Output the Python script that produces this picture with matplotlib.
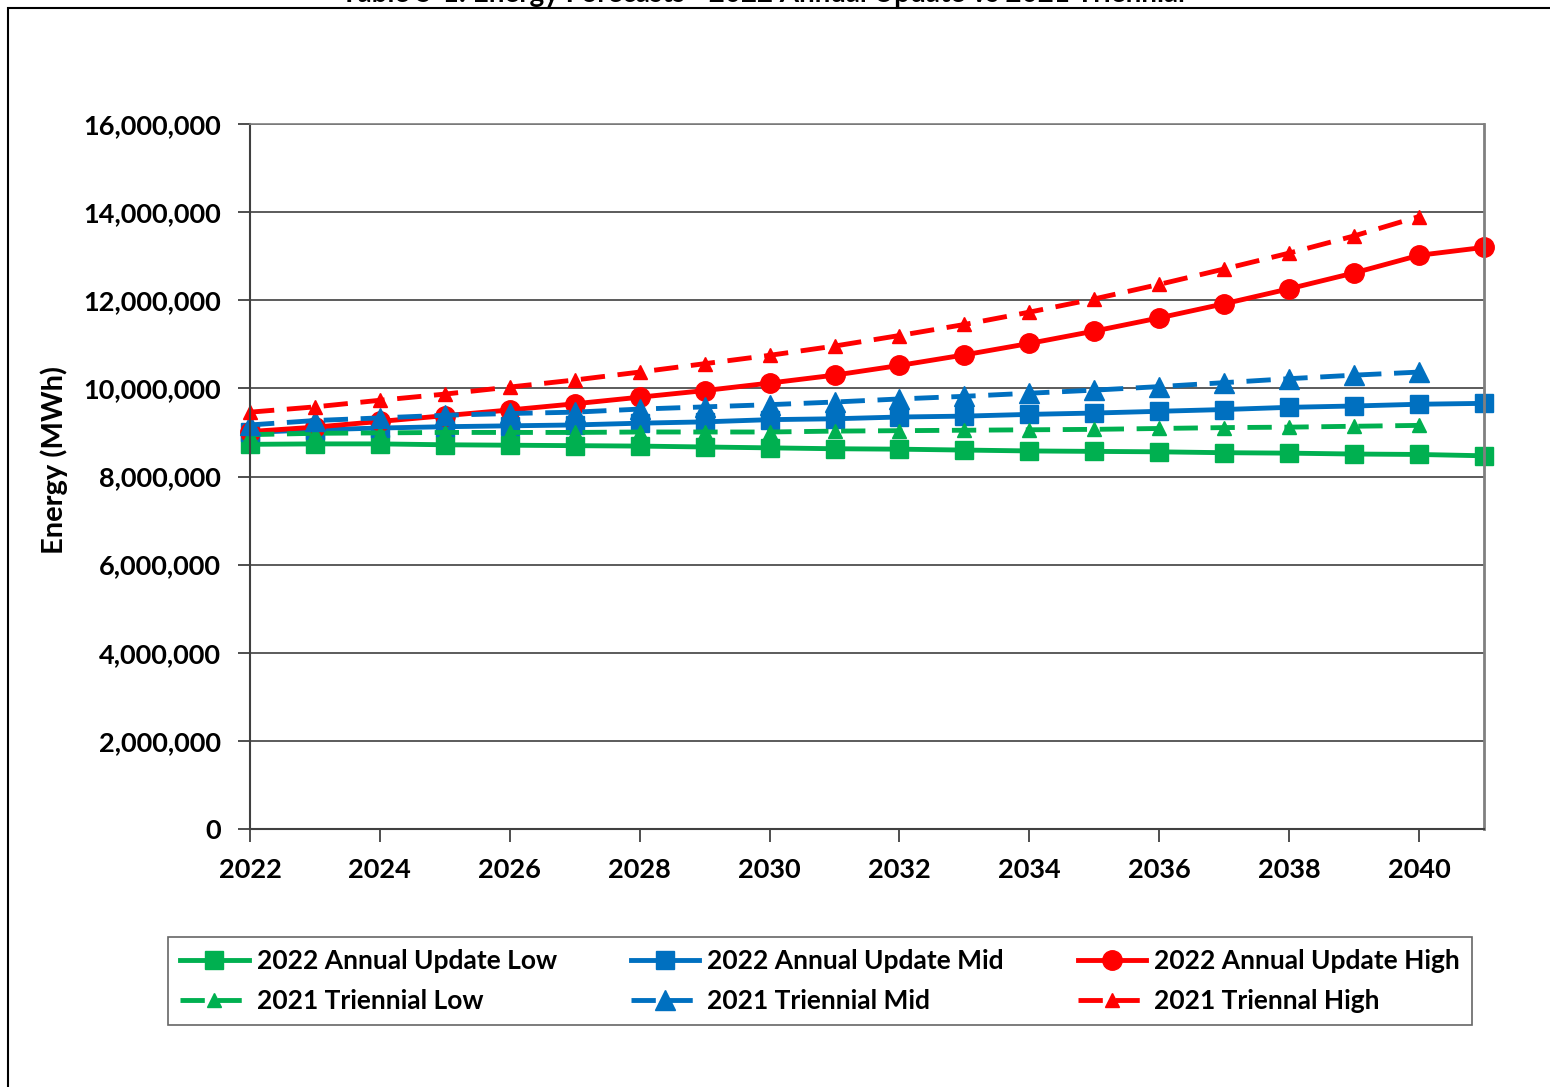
import matplotlib
matplotlib.use("Agg")
import matplotlib.pyplot as plt
from matplotlib.patches import Rectangle
from matplotlib.ticker import FuncFormatter, MultipleLocator

plt.rcParams['font.family'] = ['Lato', 'DejaVu Sans']
plt.rcParams['font.weight'] = 'bold'

# forecast years
years_au = list(range(2022, 2042))   # 2022 Annual Update runs to 2041
years_tr = list(range(2022, 2041))   # 2021 Triennial runs to 2040

# energy, millions of MWh
au_low = [8.73, 8.74, 8.74, 8.72, 8.71, 8.70, 8.69, 8.67, 8.65, 8.63,
          8.62, 8.60, 8.58, 8.57, 8.56, 8.54, 8.53, 8.51, 8.50, 8.47]
au_mid = [9.00, 9.06, 9.10, 9.13, 9.15, 9.17, 9.21, 9.24, 9.29, 9.31,
          9.35, 9.37, 9.41, 9.44, 9.48, 9.52, 9.57, 9.60, 9.64, 9.66]
au_high = [9.02, 9.12, 9.25, 9.38, 9.51, 9.65, 9.80, 9.95, 10.12, 10.30,
           10.52, 10.76, 11.02, 11.30, 11.60, 11.92, 12.26, 12.62, 13.02, 13.20]
tr_low = [8.95, 8.98, 8.99, 9.00, 9.00, 9.00, 9.01, 9.01, 9.01, 9.03,
          9.04, 9.05, 9.06, 9.07, 9.09, 9.11, 9.12, 9.14, 9.16]
tr_mid = [9.17, 9.27, 9.33, 9.39, 9.43, 9.46, 9.53, 9.58, 9.63, 9.69,
          9.76, 9.82, 9.89, 9.96, 10.04, 10.13, 10.22, 10.30, 10.37]
tr_high = [9.46, 9.58, 9.73, 9.87, 10.03, 10.19, 10.37, 10.56, 10.75, 10.96,
           11.20, 11.45, 11.73, 12.03, 12.36, 12.71, 13.07, 13.46, 13.90]

green = '#00B050'
blue = '#0070C0'
red = '#FF0000'

fig = plt.figure(figsize=(15.5, 10.87), dpi=100)
ax = fig.add_axes([250 / 1550, 1 - 829 / 1087, 1234 / 1550, 705 / 1087])

mw = lambda v: [x * 1e6 for x in v]
lw = 3.5
dash = (5, 2.6)

l1, = ax.plot(years_au, mw(au_low), color=green, lw=lw, marker='s', ms=13,
              label='2022 Annual Update Low')
l2, = ax.plot(years_au, mw(au_mid), color=blue, lw=lw, marker='s', ms=13,
              label='2022 Annual Update Mid')
l3, = ax.plot(years_au, mw(au_high), color=red, lw=lw, marker='o', ms=14,
              label='2022 Annual Update High')
l4, = ax.plot(years_tr, mw(tr_low), color=green, lw=lw, marker='^', ms=10,
              dashes=dash, label='2021 Triennial Low')
l5, = ax.plot(years_tr, mw(tr_mid), color=blue, lw=lw, marker='^', ms=14,
              dashes=dash, label='2021 Triennial Mid')
l6, = ax.plot(years_tr, mw(tr_high), color=red, lw=lw, marker='^', ms=10,
              dashes=dash, label='2021 Triennal High')
for l in (l1, l2, l3, l4, l5, l6):
    l.set_clip_on(False)

ax.set_xlim(2022, 2041)
ax.set_ylim(0, 16e6)
ax.xaxis.set_major_locator(MultipleLocator(2))
ax.yaxis.set_major_locator(MultipleLocator(2e6))
ax.yaxis.set_major_formatter(FuncFormatter(lambda v, p: f'{int(v):,}'))
ax.tick_params(axis='both', labelsize=19.5, length=9, width=1.3, color='#404040',
               direction='out')
ax.tick_params(axis='y', pad=12)
ax.tick_params(axis='x', pad=12)
for lab in ax.get_xticklabels() + ax.get_yticklabels():
    lab.set_fontweight('bold')

ax.grid(axis='y', color='#404040', lw=1.2)
ax.set_axisbelow(True)
ax.spines['left'].set_color('#404040')
ax.spines['left'].set_linewidth(1.5)
ax.spines['bottom'].set_color('#404040')
ax.spines['bottom'].set_linewidth(1.5)
ax.spines['right'].set_color('#808080')
ax.spines['right'].set_linewidth(2)
ax.spines['top'].set_color('#808080')
ax.spines['top'].set_linewidth(1.2)

ax.set_ylabel('Energy (MWh)', fontsize=21, fontweight='bold')
ax.yaxis.set_label_coords(-0.1475, 0.523)

leg = fig.legend([l1, l4, l2, l5, l3, l6],
                 [h.get_label() for h in (l1, l4, l2, l5, l3, l6)],
                 ncol=3, loc='center', bbox_to_anchor=(820 / 1550, 1 - 981 / 1087),
                 frameon=True, fancybox=False, edgecolor='#404040',
                 handlelength=2.6, handletextpad=0.3, columnspacing=2.8,
                 labelspacing=0.62, borderpad=0.45,
                 prop={'weight': 'bold', 'size': 19})
leg.get_frame().set_linewidth(1.2)

# outer chart-area frame (extends past the right and bottom edges)
fig.patches.append(Rectangle((8 / 1550, -0.05), 1.1, 1 - 8 / 1087 + 0.05,
                             transform=fig.transFigure, fill=False,
                             ec='black', lw=1.5))

# title, cut off at the top of the image
fig.text(0.492, 1 - 2 / 1087, 'Table 5-1: Energy Forecasts - 2022 Annual Update vs 2021 Triennial',
         ha='center', va='baseline', fontsize=20, fontweight='bold')

fig.savefig('out.png', dpi=100)
